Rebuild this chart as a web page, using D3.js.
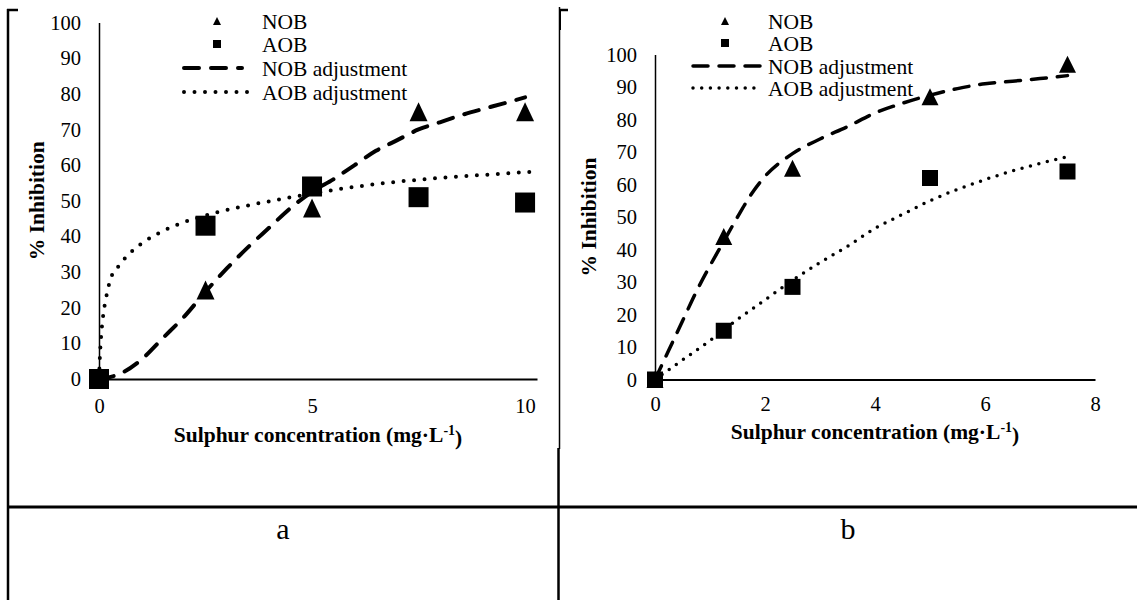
<!DOCTYPE html>
<html>
<head>
<meta charset="utf-8">
<script src="https://cdn.jsdelivr.net/npm/d3@7"></script>
<style>
  body { margin: 0; background: #fff; }
  svg { display: block; }
</style>
</head>
<body>
<div id="chart"></div>
<script>
// ticks
const yTicks = [0, 10, 20, 30, 40, 50, 60, 70, 80, 90, 100];
const xTicksA = [0, 5, 10];
const xTicksB = [0, 2, 4, 6, 8];

// panel a: measured points (x = mg/L, y = % inhibition)
const nobA = [[0, 0], [2.5, 25], [5, 48], [7.5, 75], [10, 75]];
const aobA = [[0, 0], [2.5, 43], [5, 54], [7.5, 51], [10, 49.5]];
// panel a: fitted curves
const nobFitA = [[0, 0], [0.5, 1.5], [1, 5.5], [1.5, 11.5], [2, 17.5], [2.5, 24.5], [3, 31], [3.5, 37],
  [4, 42.5], [4.5, 48], [5, 52.5], [5.5, 56], [6, 60], [6.5, 64], [7, 67], [7.5, 70], [8, 72],
  [8.5, 74], [9, 75.7], [9.5, 77.3], [10, 79]];
const aobFitA = [[0, 0], [0.02, 6], [0.05, 12], [0.1, 18], [0.17, 23], [0.27, 28], [0.45, 31.5],
  [0.7, 35], [1, 38], [1.5, 41.5], [2, 44], [2.7, 46.5], [3.5, 48.7], [4.2, 50.3], [5, 52],
  [5.5, 53], [6.75, 55], [8, 56.4], [9.1, 57.3], [10.25, 58.2]];

// panel b
const nobB = [[0, 0], [1.25, 44], [2.5, 65], [5, 87], [7.5, 97]];
const aobB = [[0, 0], [1.25, 15], [2.5, 28.5], [5, 62], [7.5, 64]];
const nobFitB = [[0, 0], [0.25, 9], [0.5, 18], [0.75, 27], [1, 35], [1.25, 42.5], [1.5, 50],
  [1.75, 57], [2, 62.5], [2.5, 69.5], [3, 74], [3.5, 77.8], [4, 82], [4.5, 85], [5, 87.5],
  [5.5, 89.5], [6, 91], [6.5, 91.8], [7, 92.6], [7.5, 93.5]];
const aobFitB = [[0, 0], [0.5, 6], [1, 12], [1.5, 18.5], [2, 24.5], [2.5, 30.5], [3, 36], [3.5, 41],
  [4, 46.5], [4.5, 50.8], [5, 55], [6, 61.5], [7, 66.5], [7.5, 68.5]];

const legendLabels = ["NOB", "AOB", "NOB adjustment", "AOB adjustment"];
const panelLabels = ["a", "b"];

const serif = "Liberation Serif, Times New Roman, serif";
const W = 1137, H = 600;

const svg = d3.select("#chart").append("svg")
    .attr("width", W)
    .attr("height", H)
    .style("background", "#fff");

function trianglePath(cx, cy, w, h) {
    return `M${cx},${cy - h / 2}L${cx + w / 2},${cy + h / 2}L${cx - w / 2},${cy + h / 2}Z`;
}

function drawPanel(cfg) {
    const g = svg.append("g");
    const x = d3.scaleLinear().domain(cfg.xDomain).range(cfg.xRange);
    const y = d3.scaleLinear().domain([0, 100]).range(cfg.yRange);

    // y axis
    const yAxis = g.append("g")
        .attr("transform", `translate(${cfg.xRange[0]},0)`)
        .call(d3.axisLeft(y).tickValues(yTicks).tickSize(0).tickPadding(18));
    yAxis.attr("font-family", serif).attr("font-size", cfg.tickFont);
    yAxis.select(".domain").attr("stroke", "#000").attr("stroke-width", 1.5);
    yAxis.selectAll("text").attr("fill", "#000").style("font-family", serif);

    // x axis
    const xAxis = g.append("g")
        .attr("transform", `translate(0,${y(0)})`)
        .call(d3.axisBottom(x).tickValues(cfg.xTicks).tickSize(0).tickPadding(cfg.xPad));
    xAxis.attr("font-family", serif).attr("font-size", cfg.tickFont);
    xAxis.select(".domain").attr("stroke", "#000").attr("stroke-width", 1.8);
    xAxis.selectAll("text").attr("fill", "#000").style("font-family", serif);

    // markers
    g.append("g").selectAll("path")
        .data(cfg.nob)
        .enter()
        .append("path")
        .attr("d", d => trianglePath(x(d[0]), y(d[1]), cfg.triW, cfg.triH))
        .attr("fill", "#000");
    g.append("g").selectAll("rect")
        .data(cfg.aob)
        .enter()
        .append("rect")
        .attr("x", d => x(d[0]) - cfg.sq / 2)
        .attr("y", d => y(d[1]) - cfg.sq / 2)
        .attr("width", cfg.sq)
        .attr("height", cfg.sq)
        .attr("fill", "#000");

    // fitted curves
    const line = d3.line()
        .x(d => x(d[0]))
        .y(d => y(d[1]))
        .curve(d3.curveMonotoneX);
    g.append("path")
        .datum(cfg.nobFit)
        .attr("d", line)
        .attr("fill", "none")
        .attr("stroke", "#000")
        .attr("stroke-width", cfg.dashW)
        .attr("stroke-linecap", "round")
        .attr("stroke-dasharray", cfg.dash);
    g.append("path")
        .datum(cfg.aobFit)
        .attr("d", line)
        .attr("fill", "none")
        .attr("stroke", "#000")
        .attr("stroke-width", cfg.dotW)
        .attr("stroke-linecap", "round")
        .attr("stroke-dasharray", cfg.dot);

    // axis titles
    g.append("text")
        .attr("transform", `translate(${cfg.yTitleX},${(cfg.yRange[0] + cfg.yRange[1]) / 2}) rotate(-90)`)
        .attr("text-anchor", "middle")
        .attr("dy", "0.35em")
        .style("font-family", serif)
        .attr("font-size", cfg.titleFont)
        .attr("font-weight", "bold")
        .text("% Inhibition");

    const xt = g.append("text")
        .attr("x", (cfg.xRange[0] + cfg.xRange[1]) / 2)
        .attr("y", cfg.xTitleY)
        .attr("dy", "0.35em")
        .attr("text-anchor", "middle")
        .style("font-family", serif)
        .attr("font-size", cfg.titleFont)
        .attr("font-weight", "bold");
    xt.append("tspan").text("Sulphur concentration (mg\u00B7L");
    xt.append("tspan").attr("dy", "-0.45em").attr("font-size", cfg.titleFont * 0.65).text("-1");
    xt.append("tspan").attr("dy", "0.45em").text(")");

    // legend
    const lg = g.append("g").style("font-family", serif).attr("font-size", cfg.legendFont);
    lg.selectAll("text")
        .data(legendLabels)
        .enter()
        .append("text")
        .attr("x", cfg.legX)
        .attr("y", (d, i) => cfg.legY[i])
        .attr("dy", "0.35em")
        .text(d => d);
    lg.append("path")
        .attr("d", trianglePath(cfg.legMarkX, cfg.legY[0], 8, 8))
        .attr("fill", "#000");
    lg.append("rect")
        .attr("x", cfg.legMarkX - 4)
        .attr("y", cfg.legY[1] - 4)
        .attr("width", 8)
        .attr("height", 8)
        .attr("fill", "#000");
    lg.append("line")
        .attr("x1", cfg.legLine[0]).attr("x2", cfg.legLine[1])
        .attr("y1", cfg.legY[2]).attr("y2", cfg.legY[2])
        .attr("stroke", "#000")
        .attr("stroke-width", cfg.dashW)
        .attr("stroke-linecap", "round")
        .attr("stroke-dasharray", cfg.dash);
    lg.append("line")
        .attr("x1", cfg.legLine[0]).attr("x2", cfg.legLine[2])
        .attr("y1", cfg.legY[3]).attr("y2", cfg.legY[3])
        .attr("stroke", "#000")
        .attr("stroke-width", cfg.dotW)
        .attr("stroke-linecap", "round")
        .attr("stroke-dasharray", cfg.dot);
}

drawPanel({
    xDomain: [0, 10.28], xRange: [99, 537], yRange: [379, 22.5],
    xTicks: xTicksA, xPad: 19,
    nob: nobA, aob: aobA, nobFit: nobFitA, aobFit: aobFitA,
    triW: 18, triH: 19, sq: 20,
    dashW: 4, dash: "15,12", dotW: 4, dot: "0,10.5",
    tickFont: 20.5, titleFont: 21.5, legendFont: 21.5,
    yTitleX: 36, xTitleY: 434,
    legX: 262, legY: [21, 44, 68, 92], legMarkX: 217, legLine: [184, 242, 253]
});

drawPanel({
    xDomain: [0, 8], xRange: [655, 1095], yRange: [379.5, 54.5],
    xTicks: xTicksB, xPad: 17,
    nob: nobB, aob: aobB, nobFit: nobFitB, aobFit: aobFitB,
    triW: 17, triH: 17, sq: 16,
    dashW: 3.5, dash: "15,11", dotW: 3.5, dot: "0,8.7",
    tickFont: 20.5, titleFont: 21.5, legendFont: 21.5,
    yTitleX: 588, xTitleY: 431,
    legX: 768, legY: [21, 43, 66, 88], legMarkX: 725, legLine: [693, 762, 762]
});

// frame and table lines
const frame = svg.append("g").attr("stroke", "#000").attr("fill", "none");
frame.append("line").attr("x1", 8).attr("x2", 8).attr("y1", 9).attr("y2", H).attr("stroke-width", 2.5);
frame.append("line").attr("x1", 7).attr("x2", 18).attr("y1", 10).attr("y2", 10).attr("stroke-width", 2.5);
frame.append("line").attr("x1", 559.5).attr("x2", 559.5).attr("y1", 7).attr("y2", 449).attr("stroke-width", 1.5);
frame.append("line").attr("x1", 559).attr("x2", 568).attr("y1", 10).attr("y2", 10).attr("stroke-width", 2.5);
frame.append("line").attr("x1", 560).attr("x2", 560).attr("y1", 9).attr("y2", 30).attr("stroke-width", 2);
frame.append("line").attr("x1", 558.5).attr("x2", 558.5).attr("y1", 448).attr("y2", H).attr("stroke-width", 2.5);
frame.append("line").attr("x1", 7).attr("x2", W).attr("y1", 507).attr("y2", 507).attr("stroke-width", 3);

// panel captions
svg.selectAll(".caption")
    .data(panelLabels)
    .enter()
    .append("text")
    .attr("class", "caption")
    .attr("x", (d, i) => i === 0 ? 283 : 848)
    .attr("y", 528)
    .attr("dy", "0.35em")
    .attr("text-anchor", "middle")
    .style("font-family", serif)
    .attr("font-size", 30)
    .text(d => d);
</script>
</body>
</html>
